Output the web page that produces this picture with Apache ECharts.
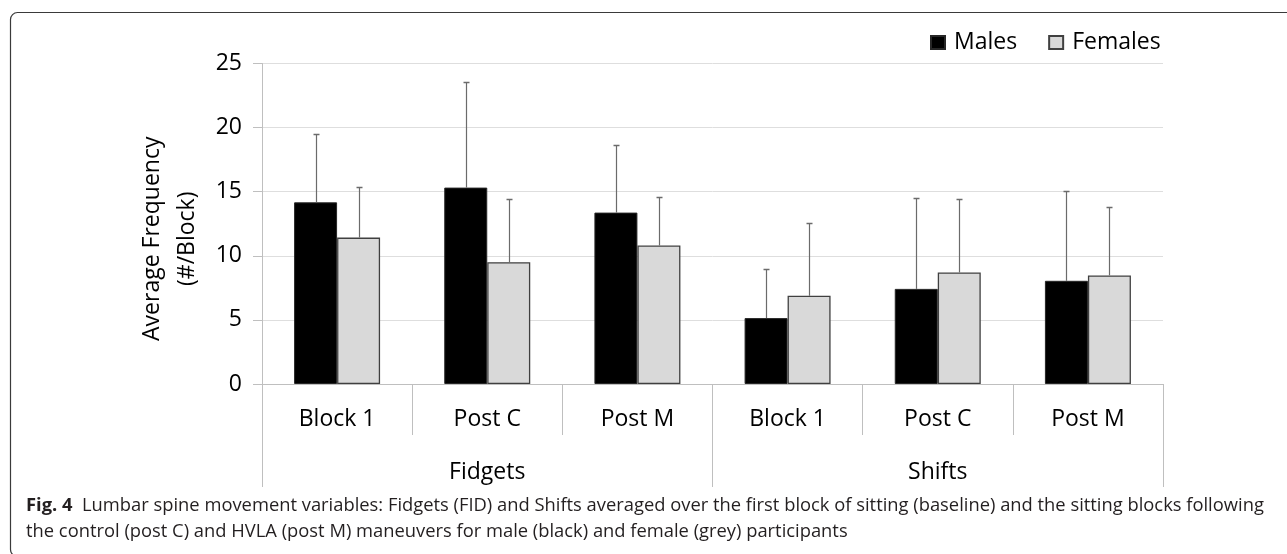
<!DOCTYPE html>
<html>
<head>
<meta charset="utf-8">
<script src="https://cdn.jsdelivr.net/npm/echarts@6/dist/echarts.min.js"></script>
<style>
  html, body { margin: 0; padding: 0; background: #ffffff; }
  #chart { width: 1287px; height: 554px; }
</style>
</head>
<body>
<div id="chart"></div>
<script>
// ---- data ----
const categories = ['Block 1', 'Post C', 'Post M', 'Block 1', 'Post C', 'Post M'];
const groups = ['Fidgets', 'Shifts'];
const seriesNames = ['Males', 'Females'];
const malesMean = [14.17, 15.32, 13.37, 5.14, 7.42, 8.05];
const malesSD = [5.35, 8.20, 5.24, 3.82, 7.09, 7.01];
const femalesMean = [11.42, 9.50, 10.80, 6.88, 8.70, 8.47];
const femalesSD = [3.98, 4.96, 3.79, 5.66, 5.71, 5.32];
const yTicks = { min: 0, max: 25, interval: 5 };
const yTitle = 'Average Frequency\n(#/Block)';
const captionBold = 'Fig. 4';
const captionLine1 = 'Lumbar spine movement variables: Fidgets (FID) and Shifts averaged over the first block of sitting (baseline) and the sitting blocks following';
const captionLine2 = 'the control (post C) and HVLA (post M) maneuvers for male (black) and female (grey) participants';

// ---- chart ----
const FONT = 'Open Sans';
const FS = 23;
const CAP_FS = 18.35;
const BAR_W = 43;
const chart = echarts.init(document.getElementById('chart'), null, { renderer: 'canvas' });

function errorBar(offset) {
  return function (params, api) {
    const i = api.value(0), m = api.value(1), sd = api.value(2);
    const base = api.coord([i, m]);
    const top = api.coord([i, m + sd]);
    const x = Math.round(base[0] + offset) + 0.5;
    const yt = Math.round(top[1]) + 0.5;
    return {
      type: 'group',
      children: [
        { type: 'line', shape: { x1: x, y1: base[1], x2: x, y2: yt }, style: { stroke: '#6b6b6b', lineWidth: 1.2 } },
        { type: 'line', shape: { x1: x - 3, y1: yt, x2: x + 3, y2: yt }, style: { stroke: '#6b6b6b', lineWidth: 1.5 } }
      ]
    };
  };
}

const option = {
  animation: false,
  backgroundColor: '#ffffff',
  textStyle: { fontFamily: FONT },
  grid: { left: 262, right: 124, top: 63.5, bottom: 170, containLabel: false },
  legend: {
    left: 925, top: 26,
    itemWidth: 14, itemHeight: 13, itemGap: 31,
    icon: 'rect',
    textStyle: { fontFamily: FONT, fontSize: FS, color: '#000', padding: [0, 0, 0, 4] },
    data: seriesNames
  },
  xAxis: [
    {
      type: 'category', data: categories, position: 'bottom', gridIndex: 0,
      axisLine: { show: true, lineStyle: { color: '#bfbfbf', width: 1 } },
      axisTick: { show: true, interval: 0, length: 51, lineStyle: { color: '#bfbfbf', width: 1 } },
      axisLabel: { interval: 0, margin: 24, fontFamily: FONT, fontSize: FS, color: '#000' }
    },
    {
      type: 'category', data: groups, position: 'bottom', gridIndex: 0,
      axisLine: { show: false },
      axisTick: { show: true, interval: 0, length: 103, lineStyle: { color: '#bfbfbf', width: 1 } },
      axisLabel: { interval: 0, margin: 77, fontFamily: FONT, fontSize: FS, color: '#000' }
    }
  ],
  yAxis: {
    type: 'value', min: yTicks.min, max: yTicks.max, interval: yTicks.interval,
    name: yTitle, nameLocation: 'middle', nameRotate: 90, nameGap: 57,
    nameTextStyle: { fontFamily: FONT, fontSize: FS, color: '#000', lineHeight: 35, padding: [0, 30, 0, 0] },
    axisLine: { show: true, lineStyle: { color: '#bfbfbf', width: 1 } },
    axisTick: { show: true, length: 9, lineStyle: { color: '#bfbfbf' } },
    axisLabel: { margin: 20, fontFamily: FONT, fontSize: FS, color: '#000' },
    splitLine: { show: true, lineStyle: { color: '#dedede', width: 1 } }
  },
  series: [
    {
      name: seriesNames[0], type: 'bar', xAxisIndex: 0, data: malesMean,
      barWidth: BAR_W, barGap: '0%',
      itemStyle: { color: '#000000', borderColor: '#262626', borderWidth: 1 }
    },
    {
      name: seriesNames[1], type: 'bar', xAxisIndex: 0, data: femalesMean,
      barWidth: BAR_W, barGap: '0%',
      itemStyle: { color: '#d9d9d9', borderColor: '#404040', borderWidth: 1.3 }
    },
    {
      type: 'custom', xAxisIndex: 0, z: 5,
      renderItem: errorBar(-BAR_W / 2),
      encode: { x: 0, y: 1 },
      data: malesMean.map((m, i) => [i, m, malesSD[i]])
    },
    {
      type: 'custom', xAxisIndex: 0, z: 5,
      renderItem: errorBar(BAR_W / 2),
      encode: { x: 0, y: 1 },
      data: femalesMean.map((m, i) => [i, m, femalesSD[i]])
    }
  ],
  graphic: [
    {
      type: 'rect', silent: true,
      shape: { x: 10.5, y: 12.5, width: 1300, height: 544, r: 7 },
      style: { fill: 'none', stroke: '#3a3a3a', lineWidth: 1.2 }
    },
    {
      type: 'text', left: 26, top: 497,
      style: {
        text: '{b|' + captionBold + '}  ' + captionLine1,
        font: CAP_FS + 'px "' + FONT + '"', fill: '#231f20',
        rich: { b: { fontFamily: FONT, fontSize: CAP_FS, fontWeight: 'bold', fill: '#231f20' } }
      }
    },
    {
      type: 'text', left: 26, top: 523,
      style: { text: captionLine2, font: CAP_FS + 'px "' + FONT + '"', fill: '#231f20' }
    }
  ]
};
chart.setOption(option);
</script>
</body>
</html>
